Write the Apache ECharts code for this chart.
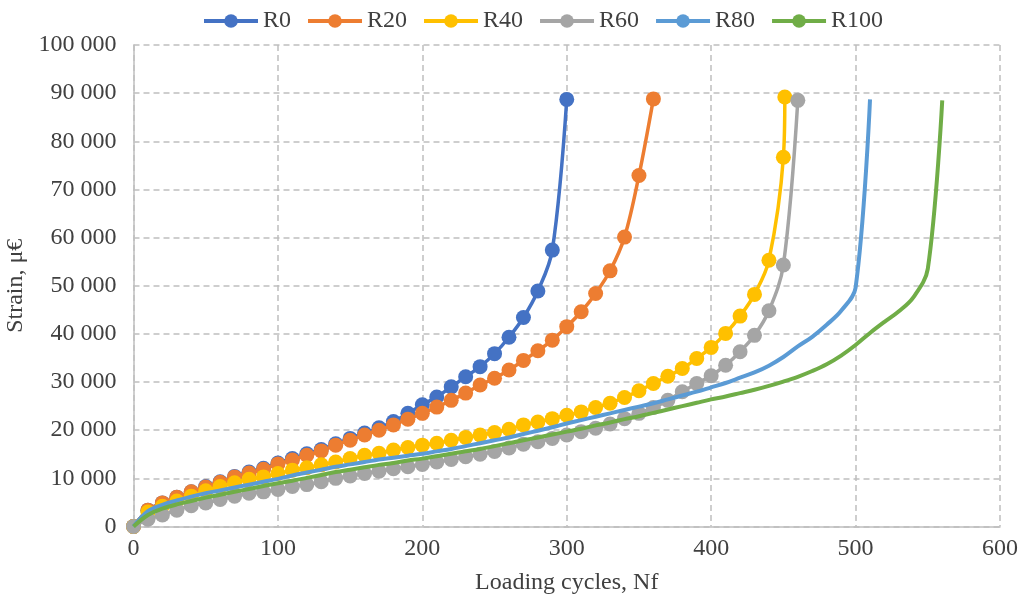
<!DOCTYPE html>
<html>
<head>
<meta charset="utf-8">
<script src="https://cdn.jsdelivr.net/npm/echarts@6/dist/echarts.min.js"></script>
<style>html,body{margin:0;padding:0;background:#fff}#c{width:1024px;height:600px}</style>
</head>
<body>
<div id="c"></div>
<script>
// sampling grid of loading cycles
const cycles = [0,10,20,30,40,50,60,70,80,90,100,110,120,130,140,150,160,170,180,190,200,210,220,230,240,250,260,270,280,290,300,310,320,330,340,350,360,370,380,390,400,410,420,430,440,450,460,470,480,490,500,510,520,530,540,550,560];
const r40Cycles = [0,10,20,30,40,50,60,70,80,90,100,110,120,130,140,150,160,170,180,190,200,210,220,230,240,250,260,270,280,290,300,310,320,330,340,350,360,370,380,390,400,410,420,430,440,450,451];

const seriesNames = ['R0','R20','R40','R60','R80','R100'];

const r0 = [0,3400,4900,6100,7200,8300,9300,10400,11300,12100,13200,14100,15100,16000,17200,18300,19400,20500,21800,23500,25300,26900,29000,31100,33200,35900,39300,43400,48900,57400,88700];
const r20 = [0,3400,4900,6100,7200,8200,9200,10300,11100,11900,13000,13800,14800,15700,16900,17900,19000,20000,21100,22300,23500,24800,26200,27700,29400,30800,32500,34500,36500,38700,41500,44600,48400,53100,60100,72900,88800];
const r40 = [0,3000,4200,5300,6300,7400,8300,9100,9800,10300,11000,11700,12200,12800,13400,14100,14800,15200,15900,16400,16900,17300,17900,18500,19000,19500,20200,21100,21700,22400,23100,23800,24700,25600,26800,28200,29700,31200,32800,34900,37200,40100,43700,48200,55300,76700,89200];
const r60 = [0,1500,2400,3400,4300,4900,5600,6300,6900,7200,7700,8300,8700,9300,10000,10500,11000,11500,12000,12400,12900,13400,13900,14500,15000,15600,16300,17100,17600,18300,19000,19700,20400,21300,22400,23500,24700,26200,28000,29700,31300,33500,36300,39700,44800,54300,88500];
const r80 = [0,3200,4500,5400,6200,6900,7500,8100,8700,9300,9900,10600,11200,11800,12400,12900,13400,13900,14300,14700,15100,15600,16100,16700,17300,17900,18500,19200,19900,20600,21400,22100,22800,23500,24200,24900,25600,26400,27200,28000,28900,29800,30900,32000,33400,35200,37400,39400,41900,44800,49600,88700];
const r100 = [0,2400,3700,4600,5300,6000,6600,7200,7800,8400,9000,9500,10100,10700,11300,11800,12300,12800,13200,13700,14100,14600,15100,15600,16100,16700,17300,17900,18500,19100,19700,20300,21000,21600,22300,22900,23600,24300,25000,25700,26400,27000,27700,28400,29200,30100,31100,32300,33700,35500,37700,40200,42500,44700,47600,53500,88500];

const yTicks = {min:0, max:100000, interval:10000};
const xTicks = {min:0, max:600, interval:100};

const colors = ['#4472C4','#ED7D31','#FFC000','#A5A5A5','#5B9BD5','#70AD47'];
const font = 'Liberation Serif';
const txt = '#404040';

function pairs(xs, ys){ return ys.map((v,i)=>[xs[i], v]); }
const dataSets = [
  pairs(cycles, r0), pairs(cycles, r20), pairs(r40Cycles, r40),
  pairs(cycles, r60), pairs(cycles, r80), pairs(cycles, r100)
];

const chart = echarts.init(document.getElementById('c'), null, {renderer:'canvas'});
const series = seriesNames.map((name,i)=>{
  const marker = i < 4;
  return {
    name, type:'line', data:dataSets[i], smooth:0.35, z:2+i,
    symbol: marker ? 'circle' : 'none', symbolSize:15, showSymbol:marker,
    lineStyle:{color:colors[i], width: marker ? 3.5 : 4},
    itemStyle:{color:colors[i]},
    emphasis:{disabled:true}, animation:false
  };
});

chart.setOption({
  animation:false,
  color:colors,
  legend:{
    top:4, left:197, itemWidth:54, itemHeight:17, itemGap:15,
    data:seriesNames,
    lineStyle:{width:4},
    textStyle:{fontFamily:font, fontSize:24, color:txt}
  },
  grid:{left:133.5, right:24, top:45, bottom:73.5, containLabel:false, outerBoundsMode:'none'},
  xAxis:{
    type:'value', min:xTicks.min, max:xTicks.max, interval:xTicks.interval,
    name:'Loading cycles, Nf', nameLocation:'middle', nameGap:44,
    nameTextStyle:{fontFamily:font, fontSize:24, color:txt},
    axisLine:{show:true, lineStyle:{color:'#BFBFBF', width:1.5}},
    axisTick:{show:false},
    axisLabel:{fontFamily:font, fontSize:24, color:txt, margin:10},
    splitLine:{show:true, lineStyle:{color:'#BFBFBF', width:1.5, type:[6,4]}}
  },
  yAxis:{
    type:'value', min:yTicks.min, max:yTicks.max, interval:yTicks.interval,
    name:'Strain, μ€', nameLocation:'middle', nameGap:97, nameRotate:90,
    nameTextStyle:{fontFamily:font, fontSize:24, color:txt},
    axisLine:{show:true, lineStyle:{color:'#BFBFBF', width:1.5}},
    axisTick:{show:false},
    axisLabel:{fontFamily:font, fontSize:24, color:txt, margin:17,
      formatter:v=>String(v).replace(/\B(?=(\d{3})+(?!\d))/g,' ')},
    splitLine:{show:true, lineStyle:{color:'#BFBFBF', width:1.5, type:[6,4]}}
  },
  series
});
</script>
</body>
</html>
